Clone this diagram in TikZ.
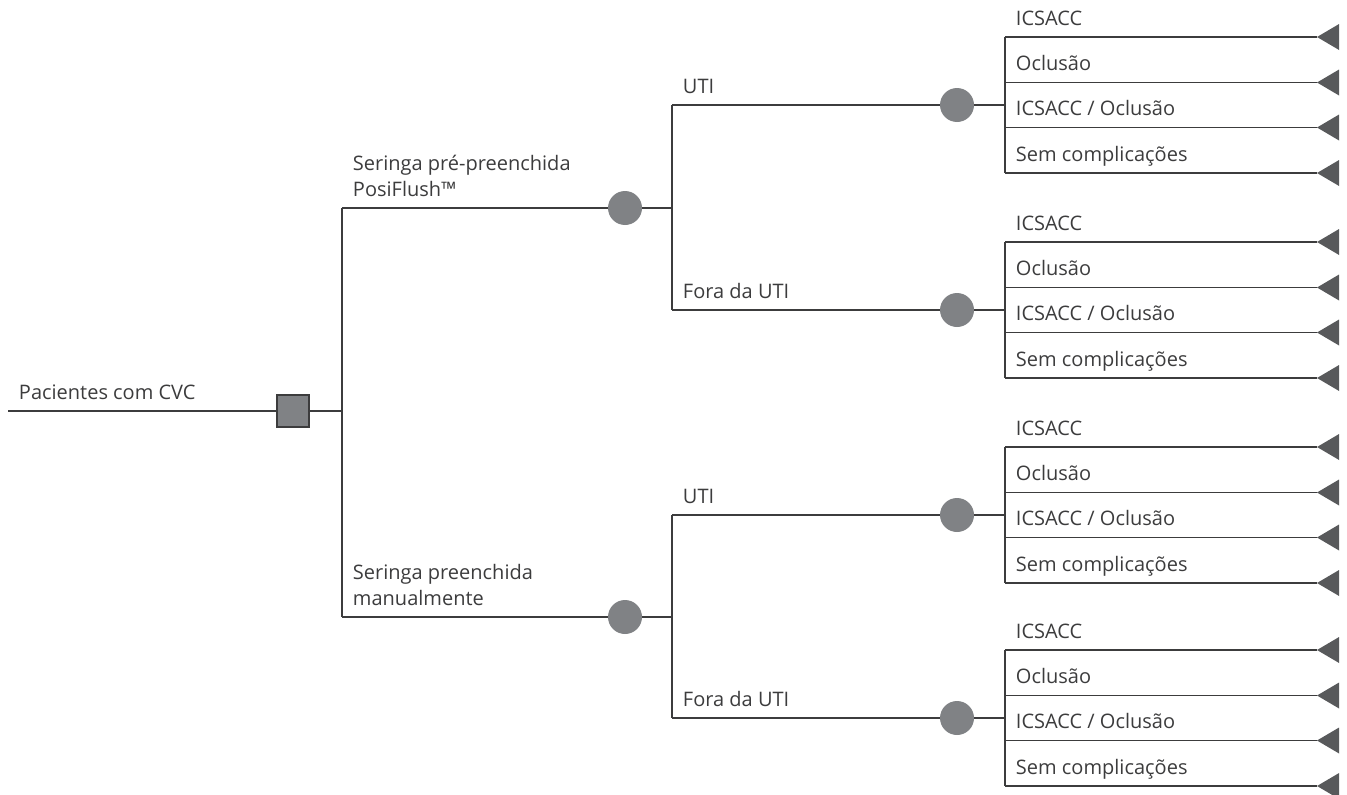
\documentclass[tikz,border=0pt]{standalone}
\usepackage{fontspec}
\setmainfont{Open Sans}
\usetikzlibrary{shapes.geometric}
\definecolor{linegray}{HTML}{3C3C3D}
\definecolor{nodegray}{HTML}{808285}
\definecolor{tipgray}{HTML}{58595B}
\begin{document}
\begin{tikzpicture}[x=1pt,y=-1pt,
  link/.style={draw=linegray,line width=1.3pt},
  decision/.style={shape=rectangle,draw=linegray,line width=1.2pt,fill=nodegray,minimum size=32pt,inner sep=0pt},
  chance/.style={shape=circle,fill=nodegray,minimum size=34pt,inner sep=0pt},
  terminal/.style={isosceles triangle,shape border rotate=180,isosceles triangle apex angle=61,minimum width=26pt,minimum height=22pt,inner sep=0pt,outer sep=0pt,fill=tipgray,anchor=apex},
  lbl/.style={pos=0,anchor=base west,xshift=7pt,yshift=12pt,align=left,text=linegray,font=\fontsize{20}{26}\selectfont}]
  \useasboundingbox (0,0) rectangle (1347,795);

  % tree
  \coordinate (inicio) at (8,411);
  \node[decision] (decisao) at (293,411) {};
  \coordinate (raiz) at (342,411);
  \coordinate (ramoPre) at (342,208);
  \coordinate (ramoManual) at (342,617);
  \node[chance] (seringaPre) at (625,208) {};
  \node[chance] (seringaManual) at (625,617) {};
  \coordinate (localPre) at (672,208);
  \coordinate (localManual) at (672,617);
  \coordinate (utiPre) at (672,105);
  \coordinate (foraPre) at (672,310);
  \coordinate (utiManual) at (672,515);
  \coordinate (foraManual) at (672,718);
  \node[chance] (desfechoA) at (957,105) {};
  \node[chance] (desfechoB) at (957,310) {};
  \node[chance] (desfechoC) at (957,515) {};
  \node[chance] (desfechoD) at (957,718) {};

  % outcomes
  \coordinate (oA1) at (1005,37);    \node[terminal] (tA1) at (1317,37) {};
  \coordinate (oA2) at (1005,82.5);  \node[terminal] (tA2) at (1317,82.5) {};
  \coordinate (oA3) at (1005,127.5); \node[terminal] (tA3) at (1317,127.5) {};
  \coordinate (oA4) at (1005,173);   \node[terminal] (tA4) at (1317,173) {};
  \coordinate (oB1) at (1005,242);   \node[terminal] (tB1) at (1317,242) {};
  \coordinate (oB2) at (1005,287.5); \node[terminal] (tB2) at (1317,287.5) {};
  \coordinate (oB3) at (1005,332.5); \node[terminal] (tB3) at (1317,332.5) {};
  \coordinate (oB4) at (1005,378);   \node[terminal] (tB4) at (1317,378) {};
  \coordinate (oC1) at (1005,447);   \node[terminal] (tC1) at (1317,447) {};
  \coordinate (oC2) at (1005,492.5); \node[terminal] (tC2) at (1317,492.5) {};
  \coordinate (oC3) at (1005,537.5); \node[terminal] (tC3) at (1317,537.5) {};
  \coordinate (oC4) at (1005,583);   \node[terminal] (tC4) at (1317,583) {};
  \coordinate (oD1) at (1005,650);   \node[terminal] (tD1) at (1317,650) {};
  \coordinate (oD2) at (1005,695.5); \node[terminal] (tD2) at (1317,695.5) {};
  \coordinate (oD3) at (1005,740.5); \node[terminal] (tD3) at (1317,740.5) {};
  \coordinate (oD4) at (1005,786);   \node[terminal] (tD4) at (1317,786) {};

  \path[link] (inicio) edge node[lbl] {Pacientes com CVC} (decisao);
  \path[link] (decisao) edge (raiz);
  \path[link] (ramoPre) edge (ramoManual);
  \path[link] (ramoPre) edge node[lbl] {Seringa pré-preenchida\\PosiFlush™} (seringaPre);
  \path[link] (ramoManual) edge node[lbl] {Seringa preenchida\\manualmente} (seringaManual);
  \path[link] (seringaPre) edge (localPre);
  \path[link] (seringaManual) edge (localManual);
  \path[link] (utiPre) edge (foraPre);
  \path[link] (utiManual) edge (foraManual);
  \path[link] (utiPre) edge node[lbl] {UTI} (desfechoA);
  \path[link] (foraPre) edge node[lbl] {Fora da UTI} (desfechoB);
  \path[link] (utiManual) edge node[lbl] {UTI} (desfechoC);
  \path[link] (foraManual) edge node[lbl] {Fora da UTI} (desfechoD);
  \path[link] (desfechoA) edge (1005,105);
  \path[link] (desfechoB) edge (1005,310);
  \path[link] (desfechoC) edge (1005,515);
  \path[link] (desfechoD) edge (1005,718);
  \path[link] (oA1) edge (oA4);
  \path[link] (oB1) edge (oB4);
  \path[link] (oC1) edge (oC4);
  \path[link] (oD1) edge (oD4);

  \path[link] (oA1) edge node[lbl] {ICSACC} (tA1.apex);
  \path[link] (oA2) edge node[lbl] {Oclusão} (tA2.apex);
  \path[link] (oA3) edge node[lbl] {ICSACC / Oclusão} (tA3.apex);
  \path[link] (oA4) edge node[lbl] {Sem complicações} (tA4.apex);
  \path[link] (oB1) edge node[lbl] {ICSACC} (tB1.apex);
  \path[link] (oB2) edge node[lbl] {Oclusão} (tB2.apex);
  \path[link] (oB3) edge node[lbl] {ICSACC / Oclusão} (tB3.apex);
  \path[link] (oB4) edge node[lbl] {Sem complicações} (tB4.apex);
  \path[link] (oC1) edge node[lbl] {ICSACC} (tC1.apex);
  \path[link] (oC2) edge node[lbl] {Oclusão} (tC2.apex);
  \path[link] (oC3) edge node[lbl] {ICSACC / Oclusão} (tC3.apex);
  \path[link] (oC4) edge node[lbl] {Sem complicações} (tC4.apex);
  \path[link] (oD1) edge node[lbl] {ICSACC} (tD1.apex);
  \path[link] (oD2) edge node[lbl] {Oclusão} (tD2.apex);
  \path[link] (oD3) edge node[lbl] {ICSACC / Oclusão} (tD3.apex);
  \path[link] (oD4) edge node[lbl] {Sem complicações} (tD4.apex);
\end{tikzpicture}
\end{document}
